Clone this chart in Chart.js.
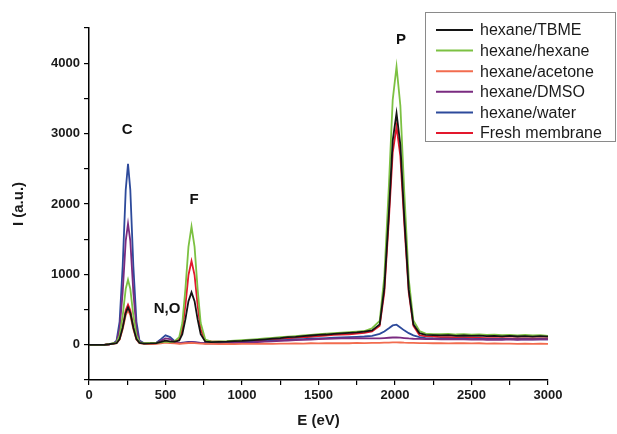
<!DOCTYPE html>
<html>
<head>
<meta charset="utf-8">
<script src="https://cdn.jsdelivr.net/npm/chart.js@4.4.0/dist/chart.umd.min.js"></script>
<style>
  body { margin: 0; background: #fff; }
  #wrap { width: 617px; height: 434px; position: relative; }
</style>
</head>
<body>
<div id="wrap"><canvas id="eds-chart"></canvas></div>
<script>
// energy grid (eV)
const energy = [
  0, 100, 130, 160, 180, 200, 220, 240, 255, 270,
  290, 310, 330, 360, 400, 440, 470, 500, 530, 560,
  590, 610, 630, 650, 670, 690, 710, 730, 760, 800,
  850, 900, 950, 1000, 1050, 1100, 1150, 1200, 1250, 1300,
  1350, 1400, 1450, 1500, 1550, 1600, 1650, 1700, 1750, 1800,
  1850, 1900, 1930, 1960, 1985, 2010, 2035, 2060, 2090, 2120,
  2160, 2200, 2250, 2300, 2350, 2400, 2450, 2500, 2550, 2600,
  2650, 2700, 2750, 2800, 2850, 2900, 2950, 3000
];

const seriesNames = ['hexane/TBME', 'hexane/hexane', 'hexane/acetone', 'hexane/DMSO', 'hexane/water', 'Fresh membrane'];
const seriesColors = ['#141414', '#7cc142', '#f26c4f', '#7a2b80', '#2d4a9b', '#e3182d'];

const tbme = [
  0, 0, 8, 18, 22, 80, 240, 455, 530, 455,
  240, 80, 28, 18, 20, 25, 40, 60, 50, 45,
  60, 150, 360, 620, 745, 620, 360, 150, 45, 38,
  42, 45, 52, 56, 64, 70, 78, 88, 96, 108,
  114, 124, 132, 140, 146, 156, 162, 170, 176, 186,
  205, 290, 800, 1870, 2900, 3290, 2840, 1830, 780, 290,
  165, 142, 138, 134, 138, 128, 132, 126, 130, 122,
  126, 120, 128, 118, 122, 116, 124, 115
];
const hexane = [
  0, 0, 10, 22, 30, 130, 410, 795, 925, 795,
  410, 130, 35, 22, 28, 30, 35, 45, 40, 50,
  110, 310, 790, 1390, 1680, 1390, 790, 310, 75, 45,
  48, 52, 60, 66, 74, 82, 90, 98, 108, 116,
  124, 134, 142, 150, 160, 166, 172, 178, 186, 196,
  235, 340, 960, 2260, 3480, 3950, 3400, 2200, 930, 345,
  195, 160, 152, 150, 156, 146, 150, 144, 148, 140,
  144, 138, 142, 134, 140, 132, 136, 128
];
const acetone = [
  0, 0, 8, 16, 22, 75, 220, 420, 490, 420,
  220, 75, 22, 15, 10, 15, 20, 30, 25, 20,
  15, 18, 22, 25, 26, 24, 20, 18, 14, 12,
  10, 12, 10, 12, 14, 12, 16, 14, 18, 16,
  20, 18, 22, 20, 24, 22, 24, 22, 26, 24,
  26, 28, 30, 32, 34, 35, 33, 30, 28, 26,
  24, 25, 22, 24, 20, 22, 24, 20, 22, 18,
  20, 16, 18, 14, 16, 14, 15, 12
];
const dmso = [
  0, 0, 8, 18, 45, 225, 745, 1475, 1720, 1475,
  745, 225, 45, 18, 15, 25, 60, 90, 80, 40,
  22, 25, 30, 34, 36, 34, 30, 26, 22, 20,
  22, 25, 28, 30, 35, 40, 44, 50, 55, 60,
  65, 70, 74, 80, 84, 88, 90, 92, 94, 92,
  90, 92, 96, 100, 104, 106, 102, 96, 90, 86,
  84, 80, 82, 78, 80, 76, 78, 74, 76, 72,
  74, 70, 78, 72, 76, 74, 78, 76
];
const water = [
  0, 0, 8, 20, 60, 330, 1110, 2200, 2570, 2200,
  1110, 330, 60, 20, 15, 30, 80, 135, 110, 50,
  25, 30, 35, 40, 42, 38, 32, 26, 22, 20,
  24, 28, 32, 36, 40, 46, 52, 58, 64, 70,
  76, 82, 86, 92, 96, 100, 104, 108, 112, 118,
  128, 155, 190, 235, 275, 285, 245, 205, 165, 135,
  110, 96, 90, 88, 86, 84, 86, 82, 84, 80,
  82, 80, 82, 78, 80, 78, 80, 78
];
const fresh = [
  0, 0, 8, 18, 25, 85, 255, 490, 570, 490,
  255, 85, 28, 20, 15, 20, 30, 40, 35, 38,
  80, 220, 560, 990, 1190, 990, 560, 220, 55, 48,
  44, 40, 44, 47, 52, 60, 66, 75, 82, 90,
  98, 105, 114, 124, 132, 140, 144, 150, 158, 170,
  190, 270, 740, 1780, 2730, 3100, 2680, 1740, 740, 270,
  135, 120, 115, 110, 108, 105, 104, 100, 98, 96,
  95, 94, 92, 92, 91, 90, 90, 90
];
const seriesValues = [tbme, hexane, acetone, dmso, water, fresh];

// peak labels
const peakText = ['C', 'N,O', 'F', 'P'];
const peakE = [250, 510, 686, 2039];
const peakI = [3050, 510, 2065, 4330];

const datasets = seriesNames.map((name, i) => ({
  label: name,
  data: energy.map((e, j) => ({ x: e, y: seriesValues[i][j] })),
  borderColor: seriesColors[i],
  backgroundColor: seriesColors[i],
  borderWidth: 1.8,
  pointRadius: 0,
  tension: 0,
  fill: false,
}));

const peakLabels = {
  id: 'peakLabels',
  afterDraw(chart) {
    const ctx = chart.ctx;
    const xs = chart.scales.x, ys = chart.scales.y;
    ctx.save();
    ctx.fillStyle = '#111';
    ctx.font = 'bold 15px "Liberation Sans", Arial, sans-serif';
    ctx.textAlign = 'center';
    ctx.textBaseline = 'middle';
    peakText.forEach((t, i) => {
      ctx.fillText(t, xs.getPixelForValue(peakE[i]), ys.getPixelForValue(peakI[i]));
    });
    ctx.restore();
  }
};

// legend box drawn inside the plot, top right
const boxLegend = {
  id: 'boxLegend',
  afterDraw(chart) {
    const ctx = chart.ctx;
    const left = 425, top = 12, w = 191, h = 130;
    ctx.save();
    ctx.fillStyle = '#fff';
    ctx.fillRect(left, top, w, h);
    ctx.strokeStyle = '#8a8a8a';
    ctx.lineWidth = 1;
    ctx.strokeRect(left + 0.5, top + 0.5, w - 1, h - 1);
    ctx.font = '16px "Liberation Sans", Arial, sans-serif';
    ctx.textBaseline = 'middle';
    chart.data.datasets.forEach((ds, i) => {
      const y = top + 18 + i * 20.6;
      ctx.strokeStyle = ds.borderColor;
      ctx.lineWidth = 2;
      ctx.beginPath();
      ctx.moveTo(left + 11, y);
      ctx.lineTo(left + 48, y);
      ctx.stroke();
      ctx.fillStyle = '#1a1a1a';
      ctx.fillText(ds.label, left + 55, y + 1);
    });
    ctx.restore();
  }
};

new Chart(document.getElementById('eds-chart'), {
  type: 'line',
  data: { datasets },
  options: {
    responsive: true,
    maintainAspectRatio: false,
    animation: false,
    layout: { padding: { left: 0, right: 69, top: 28, bottom: 0 } },
    plugins: { legend: { display: false }, tooltip: { enabled: false } },
    scales: {
      x: {
        type: 'linear',
        min: 0,
        max: 3000,
        afterFit: (s) => { s.height = 54; },
        border: { display: true, color: '#000', width: 1.5 },
        grid: { display: true, drawOnChartArea: false, drawTicks: true, tickLength: 5, color: '#000', lineWidth: 1.2 },
        ticks: {
          stepSize: 250,
          autoSkip: false,
          maxRotation: 0,
          padding: 3,
          color: '#1a1a1a',
          font: { family: '"Liberation Sans", Arial, sans-serif', size: 13, weight: 'bold' },
          callback: (v) => (v % 500 === 0 ? v : ''),
        },
        title: {
          display: true,
          text: 'E (eV)',
          color: '#1a1a1a',
          font: { family: '"Liberation Sans", Arial, sans-serif', size: 15, weight: 'bold' },
          padding: { top: 2, bottom: 4 },
        },
      },
      y: {
        type: 'linear',
        min: -500,
        max: 4500,
        afterFit: (s) => { s.width = 89; },
        border: { display: true, color: '#000', width: 1.5 },
        grid: { display: true, drawOnChartArea: false, drawTicks: true, tickLength: 5, color: '#000', lineWidth: 1.2 },
        ticks: {
          stepSize: 500,
          autoSkip: false,
          padding: 4,
          color: '#1a1a1a',
          font: { family: '"Liberation Sans", Arial, sans-serif', size: 13, weight: 'bold' },
          callback: (v) => (v >= 0 && v % 1000 === 0 ? v : ''),
        },
        title: {
          display: true,
          text: 'I (a.u.)',
          color: '#1a1a1a',
          font: { family: '"Liberation Sans", Arial, sans-serif', size: 15, weight: 'bold' },
          padding: { top: 10, bottom: 0 },
        },
      },
    },
  },
  plugins: [peakLabels, boxLegend],
});
</script>
</body>
</html>
